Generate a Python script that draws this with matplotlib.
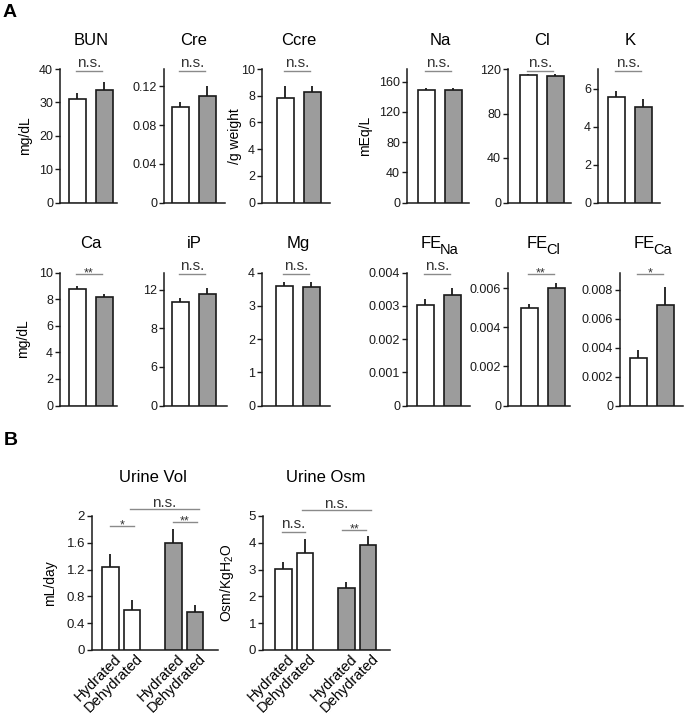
import numpy as np
import matplotlib
matplotlib.use('Agg')
import matplotlib.pyplot as plt
from matplotlib.transforms import ScaledTranslation

plt.rcParams['font.family'] = ['Liberation Sans', 'DejaVu Sans']
plt.rcParams['mathtext.fontset'] = 'custom'
plt.rcParams['mathtext.rm'] = 'Liberation Sans'
plt.rcParams['mathtext.it'] = 'Liberation Sans:italic'

W, H = 687, 716
WHITE = 'white'
GRAY = '#9c9c9c'
EDGE = '#1a1a1a'
SIGC = '#8a8a8a'

# ---- panel A : [hydrated, dehydrated] means and SEM
bun = [31.0, 33.7];          bun_err = [1.8, 2.4]
cre = [0.099, 0.1106];       cre_err = [0.005, 0.0094]
ccre = [7.8, 8.3];           ccre_err = [0.9, 0.4]
na = [149, 149];             na_err = [3, 3]
cl = [114.5, 113.6];         cl_err = [1.0, 1.9]
k = [5.58, 5.04];            k_err = [0.30, 0.45]
ca = [8.77, 8.14];           ca_err = [0.20, 0.21]
ip = [10.75, 11.6];          ip_err = [0.45, 0.6]
mg = [3.58, 3.55];           mg_err = [0.14, 0.17]
fe_na = [0.00301, 0.00333];  fe_na_err = [0.00018, 0.00019]
fe_cl = [0.00499, 0.00603];  fe_cl_err = [0.00022, 0.00021]
fe_ca = [0.00332, 0.00696];  fe_ca_err = [0.00051, 0.00127]

# ---- panel B : hydrated, dehydrated (white group) / hydrated, dehydrated (gray group)
b_labels = ['Hydrated', 'Dehydrated', 'Hydrated', 'Dehydrated']
urine_vol = [1.24, 0.60, 1.60, 0.57];  urine_vol_err = [0.19, 0.15, 0.20, 0.10]
urine_osm = [3.03, 3.61, 2.32, 3.91];  urine_osm_err = [0.25, 0.53, 0.23, 0.33]

# title, subscript, means, errs, ytick values, ytick labels, ymax, ylabel, sig
panels_a = [
    ('BUN', '', bun, bun_err, [0, 10, 20, 30, 40], ['0', '10', '20', '30', '40'], 40, 'mg/dL', 'n.s.'),
    ('Cre', '', cre, cre_err, [0, 0.04, 0.08, 0.12], ['0', '0.04', '0.08', '0.12'], 0.138, None, 'n.s.'),
    ('Ccre', '', ccre, ccre_err, [0, 2, 4, 6, 8, 10], ['0', '2', '4', '6', '8', '10'], 10, '/g weight', 'n.s.'),
    ('Na', '', na, na_err, [0, 40, 80, 120, 160], ['0', '40', '80', '120', '160'], 177, 'mEq/L', 'n.s.'),
    ('Cl', '', cl, cl_err, [0, 40, 80, 120], ['0', '40', '80', '120'], 120, None, 'n.s.'),
    ('K', '', k, k_err, [0, 2, 4, 6], ['0', '2', '4', '6'], 7.05, None, 'n.s.'),
    ('Ca', '', ca, ca_err, [0, 2, 4, 6, 8, 10], ['0', '2', '4', '6', '8', '10'], 10, 'mg/dL', '**'),
    ('iP', '', ip, ip_err, [0, 4, 8, 12], ['0', '6', '8', '12'], 13.8, None, 'n.s.'),
    ('Mg', '', mg, mg_err, [0, 1, 2, 3, 4], ['0', '1', '2', '3', '4'], 4, None, 'n.s.'),
    ('FE', 'Na', fe_na, fe_na_err, [0, 0.001, 0.002, 0.003, 0.004],
     ['0', '0.001', '0.002', '0.003', '0.004'], 0.004, None, 'n.s.'),
    ('FE', 'Cl', fe_cl, fe_cl_err, [0, 0.002, 0.004, 0.006],
     ['0', '0.002', '0.004', '0.006'], 0.0068, None, '**'),
    ('FE', 'Ca', fe_ca, fe_ca_err, [0, 0.002, 0.004, 0.006, 0.008],
     ['0', '0.002', '0.004', '0.006', '0.008'], 0.0092, None, '*'),
]

# layout in pixels: spine x, axis end x, gap spine->first bar, top y, bottom y, ylabel offset
row1 = (69, 202.5)
row2 = (272.5, 405.5)
layout_a = [
    (60, 117, 9) + row1 + (28,),
    (164, 225, 8) + row1 + (0,),
    (262, 330, 15) + row1 + (20,),
    (407, 469, 11) + row1 + (35,),
    (508, 571, 12) + row1 + (0,),
    (598, 660, 10) + row1 + (0,),
    (60, 117, 9) + row2 + (30,),
    (164, 227, 8) + row2 + (0,),
    (262, 330, 14) + row2 + (0,),
    (407, 470, 10) + row2 + (0,),
    (508, 570, 13) + row2 + (0,),
    (620, 683, 10) + row2 + (0,),
]

fig = plt.figure(figsize=(W / 100, H / 100), dpi=100)


def px_axes(x0, x1, top, bottom):
    return fig.add_axes([x0 / W, 1 - bottom / H, (x1 - x0) / W, (bottom - top) / H])


def style(ax, fs=9):
    for s in ['top', 'right']:
        ax.spines[s].set_visible(False)
    for s in ['left', 'bottom']:
        ax.spines[s].set_linewidth(1.1)
        ax.spines[s].set_color(EDGE)
    ax.tick_params(axis='y', length=3.5, width=1, colors=EDGE, labelsize=fs, pad=1.5)
    ax.tick_params(axis='x', length=0)


def bars(ax, pos, means, errs, colors, width):
    ax.bar(pos, means, width=width, color=colors, edgecolor=EDGE, linewidth=1.2, zorder=3)
    ax.errorbar(pos, means, yerr=[np.zeros(len(errs)), errs], fmt='none',
                ecolor=EDGE, elinewidth=1.3, capsize=0, zorder=2)


def sig(ax, x1, x2, y, text, coords='axes', off=None):
    tr = ax.get_xaxis_transform() if coords == 'axes' else ax.transData
    ax.plot([x1, x2], [y, y], color=SIGC, lw=1, transform=tr, clip_on=False)
    if off is None:
        off = -1.5 if '*' in text else 3
    ax.annotate(text, xy=((x1 + x2) / 2, y), xycoords=tr, xytext=(0, off),
                textcoords='offset points', ha='center', va='baseline',
                fontsize=9 if '*' in text else 11, color='#333333',
                annotation_clip=False)


def title(ax, x, text, sub, pad):
    kw = dict(xy=(x, 1), xycoords=('data', 'axes fraction'), textcoords='offset points',
              ha='left', va='baseline', annotation_clip=False)
    if not sub:
        ax.annotate(text, xytext=(0, pad), fontsize=12, **dict(kw, ha='center'))
        return
    # main text + lowered subscript, centred together
    w1 = 13.8
    w2 = {'Na': 12.5, 'Cl': 9.5, 'Ca': 12.5}[sub]
    ax.annotate(text, xytext=(-(w1 + w2) / 2, pad), fontsize=12, **kw)
    ax.annotate(sub, xytext=(w1 - (w1 + w2) / 2, pad - 4), fontsize=10.5, **kw)


D = 27.0
BW = 0.62
for (name, sub, m, e, yt, ytl, ymax, ylab, s), (sx, ex, gap, top, bot, lo) in zip(panels_a, layout_a):
    ax = px_axes(sx, ex, top, bot)
    style(ax)
    bars(ax, [0, 1], m, e, [WHITE, GRAY], BW)
    left = -gap / D - BW / 2
    ax.set_xlim(left, left + (ex - sx) / D)
    ax.set_ylim(0, ymax)
    ax.set_yticks(yt)
    ax.set_yticklabels(ytl)
    ax.set_xticks([])
    if ylab:
        ax.set_ylabel(ylab, fontsize=10)
        ax.yaxis.set_label_coords(-lo / (ex - sx), 0.5)
    sig(ax, -0.05, 0.9, 0.985, s)
    title(ax, 0.5, name, sub, 17 if top < 100 else 17.5)

# ---- panel B
pos_b = [0, 1, 2.9, 3.9]
colors_b = [WHITE, WHITE, GRAY, GRAY]
DB = 21.7
BWB = 0.77
panels_b = [
    ('Urine Vol', urine_vol, urine_vol_err, [0, 0.4, 0.8, 1.2, 1.6, 2],
     ['0', '0.4', '0.8', '1.2', '1.6', '2'], 2, 'mL/day', (92, 218, 10, 35)),
    ('Urine Osm', urine_osm, urine_osm_err, [0, 1, 2, 3, 4, 5],
     ['0', '1', '2', '3', '4', '5'], 5, r'Osm/KgH$_2$O', (263, 390, 12, 27)),
]
sigs_b = [
    [(0.0, 1.1, 1.85, '*'), (2.88, 4.0, 1.91, '**'), (0.89, 4.07, 2.10, 'n.s.')],
    [(-0.07, 0.98, 4.40, 'n.s.'), (2.72, 3.82, 4.47, '**'), (0.85, 4.03, 5.23, 'n.s.')],
]
for (name, m, e, yt, ytl, ymax, ylab, (sx, ex, gap, lo)), sg in zip(panels_b, sigs_b):
    ax = px_axes(sx, ex, 516, 650)
    style(ax, fs=9.5)
    bars(ax, pos_b, m, e, colors_b, BWB)
    left = -gap / DB - BWB / 2
    ax.set_xlim(left, left + (ex - sx) / DB)
    ax.set_ylim(0, ymax)
    ax.set_yticks(yt)
    ax.set_yticklabels(ytl)
    ax.set_xticks(pos_b)
    ax.set_xticklabels(b_labels, rotation=45, ha='right', va='top',
                       rotation_mode='anchor', fontsize=10.5)
    ax.tick_params(axis='x', pad=1)
    shift = ScaledTranslation(4 / 100, 0, fig.dpi_scale_trans)
    for lab in ax.get_xticklabels():
        lab.set_transform(lab.get_transform() + shift)
    ax.set_ylabel(ylab, fontsize=10)
    ax.yaxis.set_label_coords(-lo / (ex - sx), 0.5)
    for x1, x2, y, t in sg:
        if t == 'n.s.' and y > ymax:
            sig(ax, x1, x2, y, t, coords='data', off=1.5)
        else:
            sig(ax, x1, x2, y, t, coords='data')
    title(ax, (pos_b[0] + pos_b[-1]) / 2, name, '', 24.5)

fig.text(3 / W, 1 - 4 / H, 'A', fontsize=14, fontweight='bold', va='top', ha='left')
fig.text(4 / W, 1 - 432 / H, 'B', fontsize=14, fontweight='bold', va='top', ha='left')

fig.savefig('out.png', dpi=100)
